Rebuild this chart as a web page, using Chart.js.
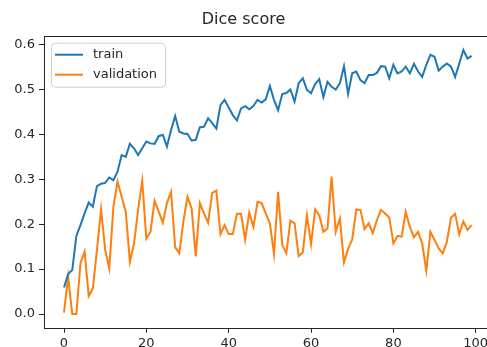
<!DOCTYPE html>
<html>
<head>
<meta charset="utf-8">
<script src="https://cdn.jsdelivr.net/npm/chart.js@4/dist/chart.umd.min.js"></script>
<style>
  html, body { margin: 0; padding: 0; background: #fff; overflow: hidden; }
  canvas { display: block; }
</style>
</head>
<body>
<canvas id="c" width="487" height="347"></canvas>
<script>
// Epochs 0..99
const epochs = Array.from({ length: 100 }, (_, i) => i);

const trainDice = [
  0.059, 0.089, 0.098, 0.174, 0.198, 0.224, 0.248, 0.239, 0.285, 0.290,
  0.292, 0.304, 0.298, 0.317, 0.354, 0.350, 0.379, 0.369, 0.354, 0.369,
  0.384, 0.380, 0.379, 0.396, 0.399, 0.373, 0.410, 0.441, 0.406, 0.402,
  0.401, 0.386, 0.388, 0.416, 0.417, 0.436, 0.425, 0.413, 0.465, 0.477,
  0.460, 0.443, 0.431, 0.458, 0.463, 0.456, 0.463, 0.477, 0.471, 0.478,
  0.508, 0.477, 0.454, 0.490, 0.492, 0.500, 0.473, 0.514, 0.525, 0.499,
  0.492, 0.512, 0.523, 0.483, 0.517, 0.506, 0.500, 0.514, 0.552, 0.490,
  0.536, 0.540, 0.521, 0.514, 0.532, 0.532, 0.537, 0.552, 0.551, 0.525,
  0.555, 0.536, 0.540, 0.551, 0.536, 0.557, 0.540, 0.528, 0.555, 0.577,
  0.573, 0.542, 0.551, 0.558, 0.551, 0.528, 0.558, 0.588, 0.569, 0.575
];

const validationDice = [
  0.003, 0.083, 0.000, 0.000, 0.113, 0.139, 0.040, 0.057, 0.143, 0.233,
  0.143, 0.102, 0.239, 0.295, 0.261, 0.228, 0.116, 0.157, 0.232, 0.297,
  0.168, 0.183, 0.252, 0.228, 0.203, 0.247, 0.272, 0.149, 0.135, 0.206,
  0.261, 0.235, 0.128, 0.247, 0.224, 0.203, 0.270, 0.275, 0.178, 0.198,
  0.178, 0.178, 0.223, 0.223, 0.165, 0.226, 0.194, 0.250, 0.247, 0.224,
  0.202, 0.134, 0.272, 0.154, 0.135, 0.208, 0.202, 0.129, 0.137, 0.220,
  0.156, 0.233, 0.220, 0.183, 0.191, 0.306, 0.183, 0.213, 0.115, 0.145,
  0.166, 0.233, 0.232, 0.189, 0.202, 0.180, 0.209, 0.232, 0.224, 0.215,
  0.157, 0.174, 0.172, 0.228, 0.194, 0.171, 0.183, 0.157, 0.096, 0.183,
  0.165, 0.146, 0.135, 0.161, 0.215, 0.223, 0.178, 0.206, 0.187, 0.198
];

const xTicks = [0, 20, 40, 60, 80, 100];
const yTicks = [0.0, 0.1, 0.2, 0.3, 0.4, 0.5, 0.6];

const FONT = '"DejaVu Sans", sans-serif';
const INK = '#262626';

// Axes frame (the right spine sits on the canvas edge)
const framePlugin = {
  id: 'frame',
  afterDraw(chart) {
    const { ctx, chartArea: a } = chart;
    ctx.save();
    ctx.strokeStyle = INK;
    ctx.lineWidth = 1;
    ctx.strokeRect(Math.round(a.left) + 0.5, Math.round(a.top) + 0.5,
                   Math.round(a.right - a.left) + 2, Math.round(a.bottom - a.top));
    ctx.restore();
  }
};

// Boxed legend in the upper-left corner of the axes
const boxLegendPlugin = {
  id: 'boxLegend',
  afterDraw(chart) {
    const { ctx, chartArea: a } = chart;
    const x0 = a.left + 7, y0 = a.top + 7, w = 114, h = 44, r = 4;
    ctx.save();
    ctx.beginPath();
    ctx.roundRect(x0 + 0.5, y0 + 0.5, w, h, r);
    ctx.fillStyle = 'rgba(255,255,255,0.8)';
    ctx.fill();
    ctx.strokeStyle = '#d0d0d0';
    ctx.lineWidth = 1;
    ctx.stroke();
    ctx.font = '13px ' + FONT;
    ctx.textBaseline = 'middle';
    ctx.textAlign = 'left';
    chart.data.datasets.forEach((ds, i) => {
      const cy = y0 + 12 + i * 20;
      ctx.beginPath();
      ctx.moveTo(x0 + 4, cy);
      ctx.lineTo(x0 + 32, cy);
      ctx.strokeStyle = ds.borderColor;
      ctx.lineWidth = 2;
      ctx.stroke();
      ctx.fillStyle = INK;
      ctx.fillText(ds.label, x0 + 42, cy);
    });
    ctx.restore();
  }
};

new Chart(document.getElementById('c'), {
  type: 'line',
  data: {
    labels: epochs,
    datasets: [
      {
        label: 'train',
        data: epochs.map((e, i) => ({ x: e, y: trainDice[i] })),
        borderColor: '#1f77b4',
        borderWidth: 2,
        pointRadius: 0,
        tension: 0,
        fill: false
      },
      {
        label: 'validation',
        data: epochs.map((e, i) => ({ x: e, y: validationDice[i] })),
        borderColor: '#ff7f0e',
        borderWidth: 2,
        pointRadius: 0,
        tension: 0,
        fill: false
      }
    ]
  },
  options: {
    responsive: false,
    animation: false,
    layout: { padding: { left: 0, right: 0, top: 0, bottom: 0 } },
    plugins: {
      legend: { display: false },
      tooltip: { enabled: false },
      title: {
        display: true,
        text: 'Dice score',
        color: INK,
        font: { family: FONT, size: 16, weight: 'normal', lineHeight: 1.2 },
        padding: { top: 10, bottom: 6.5 }
      }
    },
    scales: {
      x: {
        type: 'linear',
        min: -4.86,
        max: 102.74,
        afterBuildTicks: s => { s.ticks = xTicks.map(v => ({ value: v })); },
        afterFit: s => { s.height = 19.3; s.paddingLeft = 0; s.paddingRight = 0; },
        grid: { display: true, drawOnChartArea: false, drawTicks: true, tickLength: 5, color: INK },
        border: { display: false },
        ticks: {
          color: INK,
          font: { family: FONT, size: 13 },
          padding: 3,
          maxRotation: 0,
          callback: v => String(v)
        }
      },
      y: {
        type: 'linear',
        min: -0.0305,
        max: 0.6198,
        afterBuildTicks: s => { s.ticks = yTicks.map(v => ({ value: v })); },
        afterFit: s => { s.width = 44; s.paddingTop = 0; s.paddingBottom = 0; },
        grid: { display: true, drawOnChartArea: false, drawTicks: true, tickLength: 5, color: INK },
        border: { display: false },
        ticks: {
          color: INK,
          font: { family: FONT, size: 13 },
          padding: 4,
          callback: v => v.toFixed(1)
        }
      }
    }
  },
  plugins: [framePlugin, boxLegendPlugin]
});
</script>
</body>
</html>
